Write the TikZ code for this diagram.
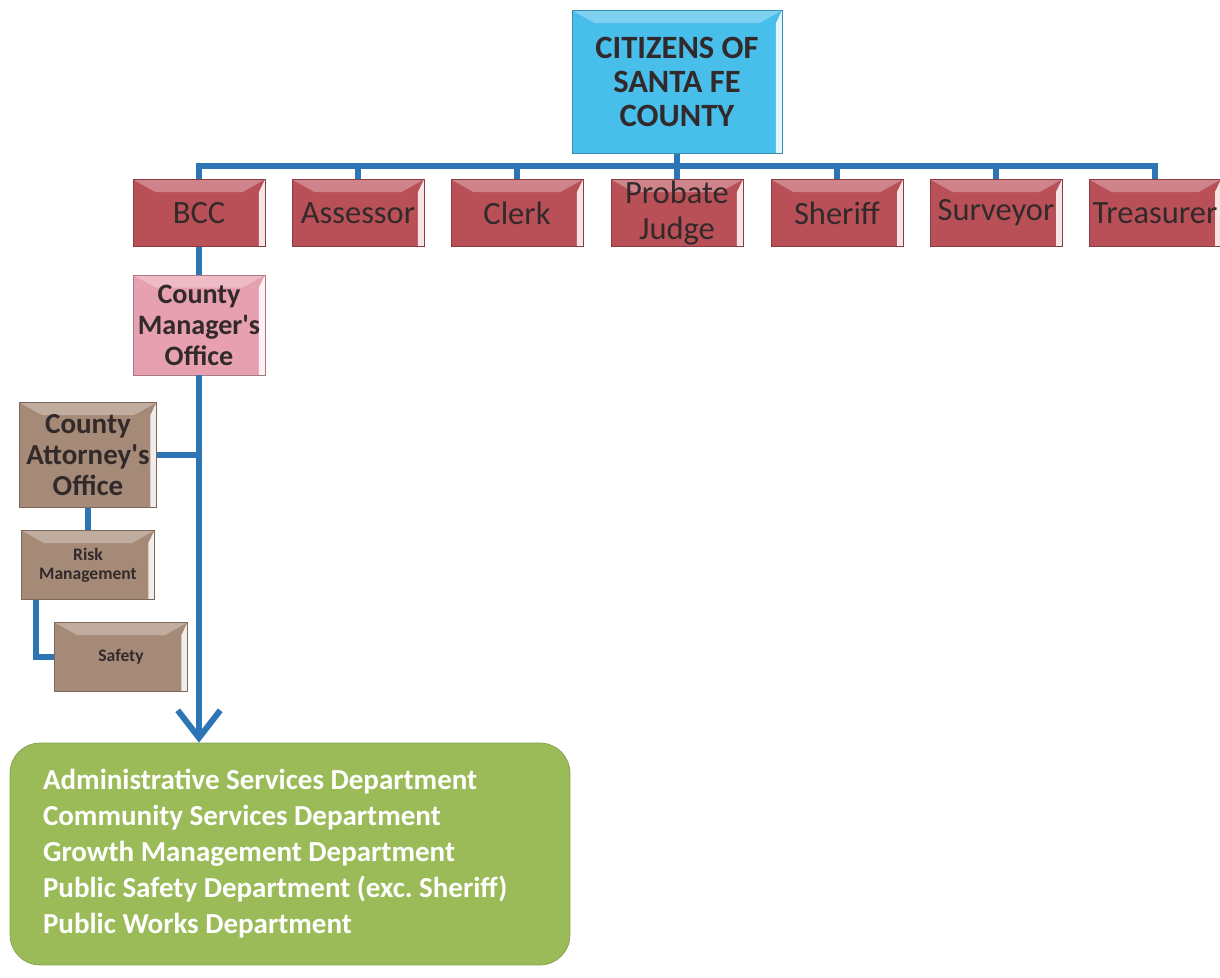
\documentclass[tikz,border=0pt]{standalone}
\usepackage{fontspec}
\setmainfont{Carlito}
\usepackage{tikz}
\usetikzlibrary{positioning}
\usetikzlibrary{arrows.meta}
\definecolor{linkblue}{RGB}{46,117,182}
\definecolor{citizenblue}{RGB}{72,190,235}
\definecolor{electedred}{RGB}{185,80,88}
\definecolor{managerpink}{RGB}{230,160,176}
\definecolor{legaltan}{RGB}{166,138,120}
\definecolor{deptgreen}{RGB}{155,187,89}
\definecolor{boxtext}{RGB}{50,42,42}
\tikzset {
  % native word spaces of the font
  tight/.style = {execute at begin node={\frenchspacing\spaceskip=0.226em plus 0.1em minus 0.05em\xspaceskip=0pt}},
  % bevelled box, as in the office charts
  main/.style = {draw=#1!75!black, fill=#1, line width=0.4pt, text=boxtext,
    align=center, inner sep=0pt, tight,
    path picture={
      \fill[white, opacity=0.3] (path picture bounding box.north west) -- (path picture bounding box.north east)
        -- ([shift={(-0.45cm,-0.25cm)}]path picture bounding box.north east)
        -- ([shift={(0.45cm,-0.25cm)}]path picture bounding box.north west) -- cycle;
      \fill[white, opacity=0.85] (path picture bounding box.north east) -- (path picture bounding box.south east)
        -- ([xshift=-0.12cm]path picture bounding box.south east)
        -- ([shift={(-0.12cm,-0.25cm)}]path picture bounding box.north east) -- cycle;
    }},
  % elected offices
  elected/.style = {main=electedred, minimum width=2.64cm, minimum height=1.34cm,
    font=\fontsize{18.5}{20}\selectfont},
  % offices under the BCC
  manager/.style = {main=managerpink, minimum width=2.64cm, minimum height=2cm,
    font=\fontsize{16}{17.6}\selectfont\bfseries},
  legal/.style = {main=legaltan, minimum width=2.66cm, minimum height=1.38cm,
    font=\fontsize{10}{10.8}\selectfont\bfseries},
  % connectors
  link/.style = {linkblue, line width=3.4pt},
  depts/.style = {draw=deptgreen!85!black, fill=deptgreen, rounded corners=0.6cm,
    text=white, align=left, text width=9.88cm, inner xsep=0.66cm, tight,
    minimum height=4.44cm, font=\fontsize{16.5}{20.5}\selectfont\bfseries},
}
\begin{document}
\begin{tikzpicture}[x=0.02cm, y=-0.02cm]
      \useasboundingbox (0,0) rectangle (1220,977);

      \node[main=citizenblue, minimum width=4.2cm, minimum height=2.86cm,
        font=\fontsize{18.5}{19.5}\selectfont\bfseries] (citizens) at (677, 82) {CITIZENS OF\\SANTA FE\\COUNTY};

      \node[elected] (bcc) at (199, 213) {BCC};
      \node[elected] (assessor) at (358, 213) {Assessor};
      \node[elected] (clerk) at (517, 213) {Clerk};
      \node[elected] (probate) at (677, 213) {Probate\\Judge};
      \node[elected] (sheriff) at (837, 213) {Sheriff};
      \node[elected] (surveyor) at (996, 213) {Surveyor};
      \node[elected] (treasurer) at (1155, 213) {Treasurer};

      \node[manager] (cmo) at (199, 325) {County\\Manager\textquotesingle s\\Office};

      \node[legal, minimum width=2.74cm, minimum height=2.1cm,
        font=\fontsize{16.5}{17.6}\selectfont\bfseries] (attorney) at (88, 455) {County\\Attorney\textquotesingle s\\Office};
      \node[legal] (risk) at (88, 565) {Risk\\Management};
      \node[legal] (safety) at (121, 657) {Safety};

      \node[depts] (depts) at (290, 854) {Administrative Services Department\\
        Community Services Department\\
        Growth Management Department\\
        Public Safety Department (exc. Sheriff)\\
        Public Works Department};

      \foreach \n in {bcc, assessor, clerk, probate, sheriff, surveyor, treasurer}
        \draw [link] (citizens.south) -- ++(0,12) -| (\n.north);

      \draw [link] (bcc) -- (cmo);
      \draw [link, -{Straight Barb[length=0.55cm, width=0.85cm]}] (cmo.south) -- (cmo.south |- depts.north);
      \draw [link] (attorney.east) -- (attorney.east -| cmo.south);
      \draw [link] (attorney) -- (risk);
      \draw [link] ([xshift=0.3cm]risk.south west) |- (safety.west);
    \end{tikzpicture}
\end{document}
